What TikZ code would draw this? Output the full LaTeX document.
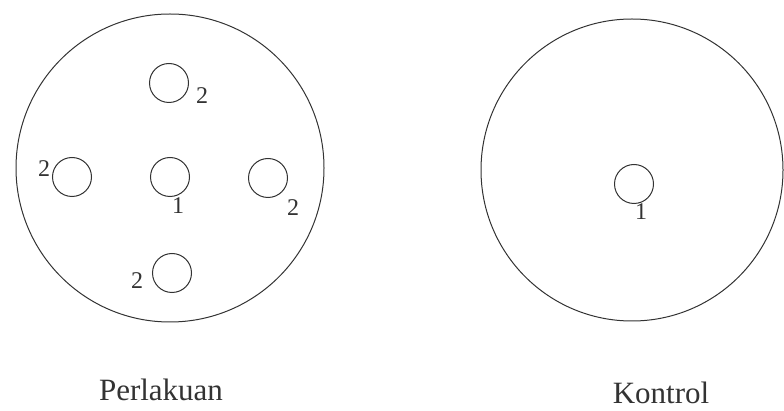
\documentclass[tikz,border=0pt]{standalone}
\usepackage{fontspec}
\setmainfont{Liberation Serif}
\usetikzlibrary{positioning,calc}
\definecolor{ink}{HTML}{333333}

\begin{document}
\begin{tikzpicture}[
  x=1pt, y=-1pt,
  dish/.style={draw=ink, line width=1pt, circle, minimum size=308pt, inner sep=0pt},
  well/.style={draw=ink, line width=1pt, circle, minimum size=39pt, inner sep=0pt},
  num/.style={font=\fontsize{24}{24}\selectfont, text=ink, inner sep=0pt},
  dishlabel/.style={font=\fontsize{31}{31}\selectfont, text=ink, inner sep=0pt, anchor=base}
]

\useasboundingbox (0,0) rectangle (784,411);

% petri dishes
\node[dish] (perl) at (170,168) {};
\node[dish, minimum size=302pt] (kont) at (632,170) {};

% wells, treatment dish
\node[well] (wtop)   at (169,83)  {};
\node[well] (wleft)  at (72,177)  {};
\node[well] (wmid)   at (170,177) {};
\node[well] (wright) at (268,178) {};
\node[well] (wbot)   at (172,273) {};

% well, control dish
\node[well] (kmid) at (634,184) {};

\node[num] at ($(wtop)   + (33,13)$)  {2};
\node[num] at ($(wleft)  + (-28,-8)$) {2};
\node[num] at ($(wmid)   + (8,29)$)   {1};
\node[num] at ($(wright) + (25,30)$)  {2};
\node[num] at ($(wbot)   + (-35,8)$)  {2};
\node[num] at ($(kmid)   + (7,28)$)   {1};

\node[dishlabel] (lperl) at (161,400) {Perlakuan};
\node[dishlabel] (lkont) at (661,403) {Kontrol};

\end{tikzpicture}
\end{document}
